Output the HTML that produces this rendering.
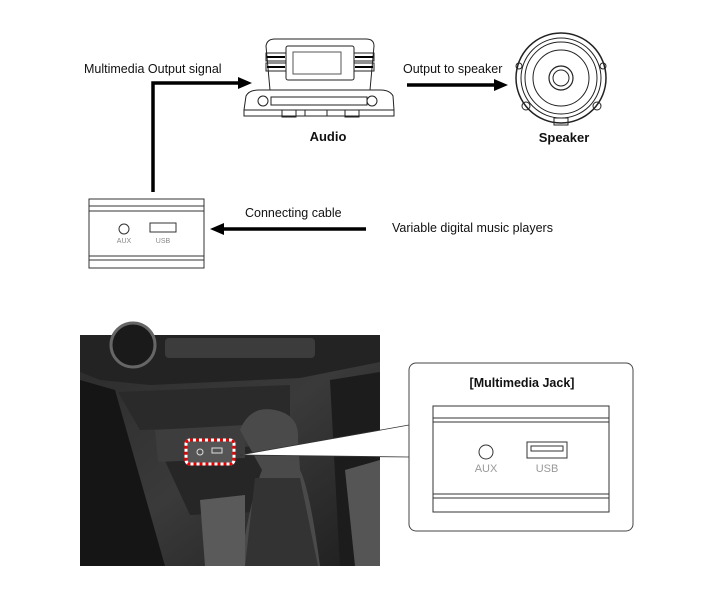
<!DOCTYPE html>
<html><head><meta charset="utf-8"><style>
html,body{margin:0;padding:0;background:#fff;}
svg{display:block;font-family:"Liberation Sans",Arial,sans-serif;}
</style></head><body>
<svg width="701" height="604" viewBox="0 0 701 604" xmlns="http://www.w3.org/2000/svg">
<defs>
<linearGradient id="ph" x1="0" y1="0" x2="1" y2="1">
<stop offset="0" stop-color="#2b2b2b"/><stop offset="0.5" stop-color="#3a3a3a"/><stop offset="1" stop-color="#1e1e1e"/>
</linearGradient>
</defs>
<rect width="701" height="604" fill="#fff"/>
<!-- top texts -->
<text x="84" y="73" font-size="12.5" fill="#111">Multimedia Output signal</text>
<text x="403" y="73" font-size="12.5" fill="#111">Output to speaker</text>
<text x="245" y="217" font-size="12.5" fill="#111">Connecting cable</text>
<text x="392" y="232" font-size="12.5" fill="#111">Variable digital music players</text>
<text x="328" y="141" font-size="13" font-weight="bold" text-anchor="middle" fill="#111">Audio</text>
<text x="564" y="142" font-size="13" font-weight="bold" text-anchor="middle" fill="#111">Speaker</text>
<!-- arrows -->
<polyline points="153,192 153,83 240,83" fill="none" stroke="#000" stroke-width="3.5"/>
<polygon points="238,77 252,83 238,89" fill="#000"/>
<line x1="407" y1="85" x2="496" y2="85" stroke="#000" stroke-width="3.5"/>
<polygon points="494,79 508,85 494,91" fill="#000"/>
<line x1="366" y1="229" x2="222" y2="229" stroke="#000" stroke-width="3.5"/>
<polygon points="224,223 210,229 224,235" fill="#000"/>
<!-- audio unit -->
<g fill="none" stroke="#222" stroke-width="1">
<path d="M270,90 L266,46 Q267,39 275,39 L366,39 Q374,39 374,46 L370,90"/>
<rect x="286" y="46" width="68" height="34" rx="2"/>
<rect x="293" y="52" width="48" height="22" fill="#fff" stroke="#555"/>
<rect x="266" y="53" width="20" height="8"/><rect x="266" y="63" width="20" height="8"/>
<rect x="354" y="53" width="20" height="8"/><rect x="354" y="63" width="20" height="8"/>
<path d="M244,110 L246,96 Q249,90 259,90 L380,90 Q390,90 393,96 L394,110 Z"/>
<circle cx="263" cy="101" r="5"/><circle cx="372" cy="101" r="5"/>
<rect x="271" y="97" width="96" height="8"/>
<path d="M244,110 L244,116 L394,116 L394,110"/>
<rect x="282" y="110" width="14" height="7"/><rect x="305" y="110" width="22" height="6"/><rect x="345" y="110" width="14" height="7"/>
</g>
<g stroke="#000" stroke-width="2"><line x1="267" y1="57" x2="285" y2="57"/><line x1="267" y1="67" x2="285" y2="67"/><line x1="355" y1="57" x2="373" y2="57"/><line x1="355" y1="67" x2="373" y2="67"/></g>
<!-- speaker -->
<g fill="none" stroke="#222">
<circle cx="561" cy="78" r="45" stroke-width="1.5"/>
<circle cx="561" cy="78" r="40"/>
<circle cx="561" cy="78" r="36"/>
<circle cx="561" cy="78" r="28"/>
<circle cx="561" cy="78" r="12" stroke-width="1.2"/>
<circle cx="561" cy="78" r="8"/>
<circle cx="526" cy="106" r="4"/><circle cx="597" cy="106" r="4"/><circle cx="519" cy="66" r="3"/><circle cx="603" cy="66" r="3"/>
<rect x="554" y="118" width="14" height="7"/>
</g>
<!-- small jack box -->
<g fill="#fff" stroke="#333" stroke-width="1">
<rect x="89" y="199" width="115" height="69"/>
<line x1="89" y1="206" x2="204" y2="206"/><line x1="89" y1="211" x2="204" y2="211"/>
<line x1="89" y1="256" x2="204" y2="256"/><line x1="89" y1="260" x2="204" y2="260"/>
<circle cx="124" cy="229" r="5"/>
<rect x="150" y="223" width="26" height="9"/>
</g>
<text x="124" y="243" font-size="7" fill="#888" text-anchor="middle">AUX</text>
<text x="163" y="243" font-size="7" fill="#888" text-anchor="middle">USB</text>
<!-- photo -->
<rect x="80" y="335" width="300" height="231" fill="url(#ph)"/>
<path d="M80,335 L380,335 L380,362 L300,378 L150,385 L100,380 L80,372 Z" fill="#232323"/>
<rect x="165" y="338" width="150" height="20" rx="4" fill="#3c3c3c"/>
<circle cx="133" cy="345" r="22" fill="#1a1a1a" stroke="#666" stroke-width="3"/>
<path d="M118,392 L290,385 L290,425 L140,430 Z" fill="#2a2a2a"/>
<path d="M160,450 L290,445 L300,510 L190,515 Z" fill="#262626"/>
<path d="M155,430 L245,425 L245,458 L158,462 Z" fill="#3d3d3d"/>
<path d="M240,430 Q250,405 275,410 Q300,415 298,440 L300,470 Q310,490 320,566 L240,566 Q250,500 262,470 Z" fill="#4a4a4a"/>
<path d="M255,478 L300,478 L318,566 L245,566 Z" fill="#333"/>
<path d="M200,500 L245,495 L245,566 L205,566 Z" fill="#5a5a5a"/>
<path d="M80,380 L115,390 L165,566 L80,566 Z" fill="#151515"/>
<path d="M330,380 L380,372 L380,566 L340,566 Z" fill="#1c1c1c"/>
<path d="M345,470 L380,460 L380,566 L355,566 Z" fill="#555"/>
<!-- red dashed highlight -->
<rect x="186" y="440" width="48" height="24" rx="4" fill="#555" stroke="#fff" stroke-width="3"/>
<rect x="186" y="440" width="48" height="24" rx="4" fill="none" stroke="#e00" stroke-width="3" stroke-dasharray="3,3"/>
<circle cx="200" cy="452" r="3" fill="none" stroke="#ddd"/>
<rect x="212" y="448" width="10" height="5" fill="none" stroke="#ddd"/>
<!-- leader wedge -->
<polygon points="240,455 409,425 409,457" fill="#fff"/>
<line x1="240" y1="455" x2="409" y2="425" stroke="#333" stroke-width="0.8"/>
<line x1="240" y1="455" x2="409" y2="457" stroke="#333" stroke-width="0.8"/>
<!-- callout -->
<rect x="409" y="363" width="224" height="168" rx="7" fill="#fff" stroke="#444" stroke-width="1"/>
<text x="522" y="387" font-size="12.5" font-weight="bold" text-anchor="middle" fill="#111">[Multimedia Jack]</text>
<g fill="#fff" stroke="#333" stroke-width="1">
<rect x="433" y="406" width="176" height="106"/>
<line x1="433" y1="418" x2="609" y2="418"/><line x1="433" y1="422" x2="609" y2="422"/>
<line x1="433" y1="494" x2="609" y2="494"/><line x1="433" y1="498" x2="609" y2="498"/>
<circle cx="486" cy="452" r="7"/>
<rect x="527" y="442" width="40" height="16"/>
<rect x="531" y="446" width="32" height="5"/>
</g>
<text x="486" y="472" font-size="11" fill="#999" text-anchor="middle">AUX</text>
<text x="547" y="472" font-size="11" fill="#999" text-anchor="middle">USB</text>
</svg>
</body></html>
